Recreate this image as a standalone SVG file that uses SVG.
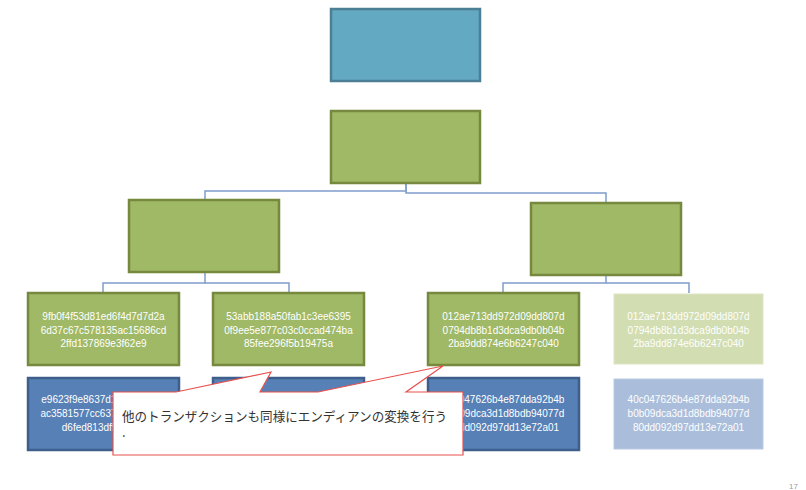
<svg xmlns="http://www.w3.org/2000/svg" width="806" height="490" viewBox="0 0 806 490">
<style>
.g{fill:#A0B966;stroke:#76893F;stroke-width:2.5}
.b{fill:#5780B6;stroke:#3E5F8C;stroke-width:2.5}
.pg{fill:#D2DDB2;stroke:#DCE5C4;stroke-width:1}
.pb{fill:#AABEDB;stroke:#B8C9E1;stroke-width:1}
.t{font-family:"Liberation Sans",Arial,sans-serif;font-size:10px;fill:#FFFFFF;text-anchor:middle}
.c{fill:none;stroke:#7F9CCB;stroke-width:1.5}
.ct{font-family:"Noto Sans CJK JP","Noto Sans",sans-serif;font-size:13px;fill:#333333}
</style>
<rect width="806" height="490" fill="#FFFFFF"/>
<g id="connectors">
<polyline class="c" points="406,183 406,191 205,191 205,200"/>
<polyline class="c" points="406,183 406,193 606,193 606,203"/>
<polyline class="c" points="205,272 205,283 103,283 103,293"/>
<polyline class="c" points="205,283 289,283 289,293"/>
<polyline class="c" points="606,275 606,283 503,283 503,293"/>
<polyline class="c" points="606,283 689,283 689,293"/>
</g>
<g id="top"><rect x="331" y="9" width="149" height="72" fill="#63A9C2" stroke="#4C7F94" stroke-width="2.5"/></g>
<g id="root"><rect class="g" x="331" y="111" width="149" height="72"/></g>
<g id="midL"><rect class="g" x="129" y="200" width="150" height="72"/></g>
<g id="midR"><rect class="g" x="531" y="203" width="150" height="72"/></g>
<g id="leaf1"><rect class="g" x="28" y="293" width="151" height="72"/>
<text class="t" x="103.5" y="320">9fb0f4f53d81ed6f4d7d7d2a</text>
<text class="t" x="103.5" y="333.5">6d37c67c578135ac15686cd</text>
<text class="t" x="103.5" y="347">2ffd137869e3f62e9</text></g>
<g id="leaf2"><rect class="g" x="213" y="293" width="151" height="72"/>
<text class="t" x="288.5" y="320">53abb188a50fab1c3ee6395</text>
<text class="t" x="288.5" y="333.5">0f9ee5e877c03c0ccad474ba</text>
<text class="t" x="288.5" y="347">85fee296f5b19475a</text></g>
<g id="leaf3"><rect class="g" x="428" y="293" width="151" height="72"/>
<text class="t" x="503.5" y="320">012ae713dd972d09dd807d</text>
<text class="t" x="503.5" y="333.5">0794db8b1d3dca9db0b04b</text>
<text class="t" x="503.5" y="347">2ba9dd874e6b6247c040</text></g>
<g id="leaf4"><rect class="pg" x="614" y="294" width="149" height="70"/>
<text class="t" x="688.5" y="320">012ae713dd972d09dd807d</text>
<text class="t" x="688.5" y="333.5">0794db8b1d3dca9db0b04b</text>
<text class="t" x="688.5" y="347">2ba9dd874e6b6247c040</text></g>
<g id="rev1"><rect class="b" x="28" y="378" width="151" height="72"/>
<text class="t" x="103.5" y="403">e9623f9e8637d1ffd26c6815</text>
<text class="t" x="103.5" y="417">ac3581577cc6376d2a7d7d4</text>
<text class="t" x="103.5" y="431">d6fed813df5f4b09f</text></g>
<g id="rev2"><rect class="b" x="213" y="378" width="151" height="72"/></g>
<g id="rev3"><rect class="b" x="428" y="378" width="151" height="72"/>
<text class="t" x="503.5" y="403">40c047626b4e87dda92b4b</text>
<text class="t" x="503.5" y="417">b0b09dca3d1d8bdb94077d</text>
<text class="t" x="503.5" y="431">80dd092d97dd13e72a01</text></g>
<g id="rev4"><rect class="pb" x="614" y="379" width="149" height="70"/>
<text class="t" x="688.5" y="403">40c047626b4e87dda92b4b</text>
<text class="t" x="688.5" y="417">b0b09dca3d1d8bdb94077d</text>
<text class="t" x="688.5" y="431">80dd092d97dd13e72a01</text></g>
<g id="callout">
<path d="M113,392 L176,392 L271,372 L260,392 L318,392 L443,366 L406,392 L463,392 L463,455 L113,455 Z" fill="#FFFFFF" stroke="#E8524F" stroke-width="1.2"/>
<text class="ct" x="122" y="421" textLength="325" lengthAdjust="spacingAndGlyphs">他のトランザクションも同様にエンディアンの変換を行う</text>
<text class="ct" x="122" y="437">.</text>
</g>
<text x="789" y="489" font-family="Liberation Sans,Arial,sans-serif" font-size="8" fill="#A0A0A0">17</text>
</svg>
